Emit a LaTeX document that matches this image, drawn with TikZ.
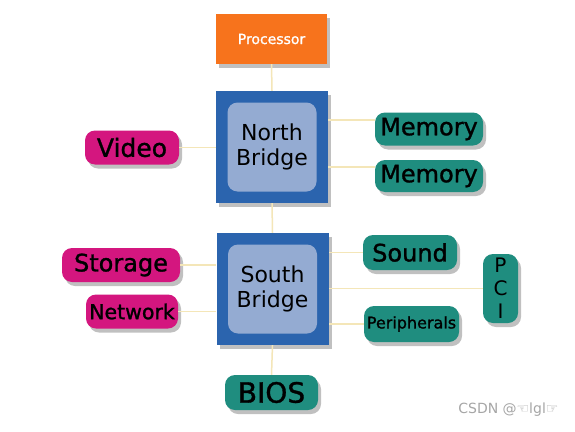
\documentclass[tikz,border=0pt]{standalone}
\usepackage{fontspec}
\setmainfont{DejaVu Sans}
\newfontfamily\heavyfont[FakeBold=1.2]{DejaVu Sans}
\usetikzlibrary{positioning, shadows}

\definecolor{procorange}{HTML}{F7731C}
\definecolor{bridgeblue}{HTML}{2B64AE}
\definecolor{bridgeinner}{HTML}{94ABD2}
\definecolor{partpink}{HTML}{D4167F}
\definecolor{partteal}{HTML}{1F8D7F}
\definecolor{linkyellow}{HTML}{F4E6B8}

\begin{document}
\begin{tikzpicture}[
    x=1pt, y=-1pt,               % Pixelkoordinaten, y nach unten
    shade/.style={drop shadow={shadow xshift=3pt, shadow yshift=-4pt, opacity=0.35, fill=black!70}},
    bridge/.style={draw=none, fill=bridgeblue, minimum width=112pt, minimum height=112pt, shade},
    inner/.style={fill=bridgeinner, rounded corners=10pt, minimum width=89pt, minimum height=89pt, align=center, font=\fontsize{22}{25}\selectfont},
    pink/.style={fill=partpink, rounded corners=10pt, minimum height=34pt, inner sep=0pt, shade},
    teal/.style={fill=partteal, rounded corners=10pt, minimum height=34pt, inner sep=0pt, shade},
    link/.style={draw=linkyellow, line width=1.5pt}
  ]

  \useasboundingbox[fill=white] (0,0) rectangle (575,431);

  % Prozessor und Bruecken
  \node[fill=procorange, minimum width=111pt, minimum height=50pt, text=white, font=\heavyfont\fontsize{14}{16}\selectfont, shade] (proc) at (271.5,39) {Processor};

  \node[bridge] (nb) at (272,147) {};
  \node[inner]  (nbin) at (nb.center) {North\\Bridge};

  \node[bridge] (sb) at (272.5,289) {};
  \node[inner]  (sbin) at (sb.center) {South\\Bridge};

  % Linke Seite
  \node[pink, minimum width=94pt, font=\heavyfont\fontsize{25}{28}\selectfont]  (video)   at (132,147.5) {Video};
  \node[pink, minimum width=118pt, font=\heavyfont\fontsize{24}{28}\selectfont] (storage) at (121,265)   {Storage};
  \node[pink, minimum width=92pt, font=\heavyfont\fontsize{20.5}{24}\selectfont] (network) at (132,311.5) {Network};

  % Rechte Seite
  \node[teal, minimum width=108pt, minimum height=33pt, font=\heavyfont\fontsize{24}{28}\selectfont] (mem1) at (429,129) {Memory};
  \node[teal, minimum width=108pt, minimum height=32pt, font=\heavyfont\fontsize{24}{28}\selectfont] (mem2) at (429,176) {Memory};
  \node[teal, minimum width=94pt, minimum height=35pt, font=\heavyfont\fontsize{24}{28}\selectfont]  (sound) at (410,252.5) {Sound};
  \node[teal, minimum width=95pt, minimum height=36pt, font=\heavyfont\fontsize{16}{20}\selectfont]  (periph) at (411.5,324) {Peripherals};
  \node[teal, minimum width=35pt, minimum height=69pt, align=center, font=\fontsize{20}{23}\selectfont] (pci) at (500.5,288.5) {P\\C\\I};

  \node[teal, minimum width=93pt, minimum height=35pt, font=\heavyfont\fontsize{28}{32}\selectfont] (bios) at (271.5,392.5) {BIOS};

  % Leitungen
  \draw[link] (proc.south) -- (nb.north);
  \draw[link] (nb.south) -- (sb.north);
  \draw[link] (sb.south) -- (bios.north);
  \draw[link] (video.east) -- (video.east -| nb.west);
  \draw[link] (storage.east) -- (storage.east -| sb.west);
  \draw[link] (network.east) -- (network.east -| sb.west);
  \draw[link] ([yshift=9pt]mem1.west) -- ([yshift=9pt]mem1.west -| nb.east);
  \draw[link] ([yshift=9pt]mem2.west) -- ([yshift=9pt]mem2.west -| nb.east);
  \draw[link] (sound.west) -- (sound.west -| sb.east);
  \draw[link] (pci.west) -- (pci.west -| sb.east);
  \draw[link] (periph.west) -- (periph.west -| sb.east);

  % Wasserzeichen
  \node[text=black!35, font=\fontsize{14}{16}\selectfont, anchor=east] (mark) at (562,410) {CSDN @☜lgl☞};

\end{tikzpicture}
\end{document}
